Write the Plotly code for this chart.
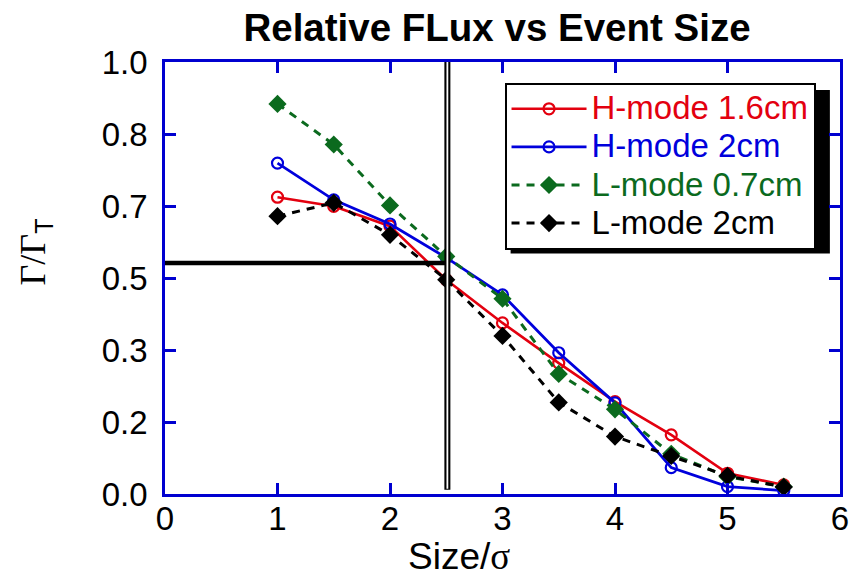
import plotly.graph_objects as go

# ---- data ----
sizes = [1.0, 1.5, 2.0, 2.5, 3.0, 3.5, 4.0, 4.5, 5.0, 5.5]
h_mode_16 = [0.687, 0.666, 0.620, 0.496, 0.396, 0.303, 0.214, 0.137, 0.048, 0.021]
h_mode_20 = [0.766, 0.681, 0.625, 0.547, 0.461, 0.327, 0.211, 0.061, 0.017, 0.008]
l_mode_07 = [0.903, 0.809, 0.668, 0.550, 0.452, 0.278, 0.196, 0.093, 0.040, 0.017]
l_mode_20 = [0.643, 0.674, 0.600, 0.496, 0.366, 0.212, 0.133, 0.088, 0.042, 0.016]

series_names = ["H-mode 1.6cm", "H-mode 2cm", "L-mode 0.7cm", "L-mode 2cm"]

x_ticks = [0, 1, 2, 3, 4, 5, 6]
y_tickvals = [0, 1/6, 2/6, 3/6, 4/6, 5/6, 1]
y_ticktext = ["0.0", "0.2", "0.3", "0.5", "0.7", "0.8", "1.0"]

ref_x = 2.51    # vertical reference line
ref_y = 0.535   # horizontal reference line

RED = "#e3000f"
BLUE = "#0000dc"
GREEN = "#0b6a1e"
BLACK = "#000000"
FRAME = "#0000d0"
FONT = "Liberation Sans, Arial, Helvetica, sans-serif"
SERIF = "Liberation Serif, Times New Roman, serif"


def legend_label(text, color):
    return '<span style="color:%s;font-size:33px">%s</span>' % (color, text)


fig = go.Figure()

fig.add_trace(go.Scatter(
    x=sizes, y=h_mode_16, mode="lines+markers",
    name=legend_label(series_names[0], RED),
    line=dict(color=RED, width=2.6),
    marker=dict(symbol="circle-open", size=11, color=RED, line=dict(width=2.2, color=RED)),
))
fig.add_trace(go.Scatter(
    x=sizes, y=h_mode_20, mode="lines+markers",
    name=legend_label(series_names[1], BLUE),
    line=dict(color=BLUE, width=2.8),
    marker=dict(symbol="circle-open", size=11, color=BLUE, line=dict(width=2.2, color=BLUE)),
))
fig.add_trace(go.Scatter(
    x=sizes, y=l_mode_07, mode="lines+markers",
    name=legend_label(series_names[2], GREEN),
    line=dict(color=GREEN, width=3, dash="8px,7px"),
    marker=dict(symbol="diamond", size=14, color=GREEN),
))
fig.add_trace(go.Scatter(
    x=sizes, y=l_mode_20, mode="lines+markers",
    name=legend_label(series_names[3], BLACK),
    line=dict(color=BLACK, width=3, dash="8px,7px"),
    marker=dict(symbol="diamond", size=14, color=BLACK),
))

axis_common = dict(
    showline=True, linecolor=FRAME, linewidth=2.5, mirror="ticks",
    ticks="inside", ticklen=11, tickwidth=2.5, tickcolor=FRAME,
    showgrid=False, zeroline=False, automargin=False,
    tickfont=dict(family=FONT, size=33, color="black"),
)

fig.update_layout(
    width=854, height=579,
    margin=dict(l=165, r=14, t=62, b=85),
    paper_bgcolor="white", plot_bgcolor="white",
    font=dict(family=FONT, color="black"),
    title=dict(
        text="<b>Relative FLux vs Event Size</b>",
        font=dict(family=FONT, size=38.5, color="black"),
        x=0.582, xanchor="center", y=0.952, yanchor="middle", xref="container",
    ),
    xaxis=dict(
        range=[0, 6], tickvals=x_ticks, ticktext=[str(v) for v in x_ticks],
        ticklabelstandoff=-6,
        **axis_common,
    ),
    yaxis=dict(
        range=[0, 1], tickvals=y_tickvals, ticktext=y_ticktext,
        ticklabelstandoff=8,
        **axis_common,
    ),
    showlegend=True,
    legend=dict(
        x=0.503, y=0.952, xanchor="left", yanchor="top",
        bgcolor="white", bordercolor="black", borderwidth=2,
        font=dict(family=FONT, size=27),
        itemwidth=75, tracegroupgap=0,
    ),
)

# x-axis title (placed like the reference, left of centre)
fig.add_annotation(
    text='Size/<span style="font-family:%s">σ</span>' % SERIF,
    xref="paper", yref="paper", x=0.435, y=-0.144,
    xanchor="center", yanchor="middle", showarrow=False,
    font=dict(family=FONT, size=37, color="black"),
)

# y-axis title as a rotated annotation
fig.add_annotation(
    text='Γ/Γ<sub><span style="font-family:%s">T</span></sub>' % FONT,
    xref="paper", yref="paper", x=-0.192, y=0.56,
    xanchor="center", yanchor="middle", textangle=-90, showarrow=False,
    font=dict(family=SERIF, size=36, color="black"),
)

# legend drop shadow (offset right/down)
fig.add_shape(type="rect", xref="paper", yref="paper", layer="below",
              x0=0.512, x1=0.985, y0=0.557, y1=0.935,
              fillcolor="black", line=dict(width=0))

# reference lines
fig.add_shape(type="line", xref="x", yref="y", x0=0, x1=ref_x, y0=ref_y, y1=ref_y,
              line=dict(color="black", width=4.5))
fig.add_shape(type="line", xref="x", yref="y", x0=ref_x, x1=ref_x, y0=0.01, y1=1,
              line=dict(color="black", width=6))
fig.add_shape(type="line", xref="x", yref="y", x0=ref_x, x1=ref_x, y0=0.012, y1=1,
              line=dict(color="white", width=1.8))

fig.write_html("out.html")
